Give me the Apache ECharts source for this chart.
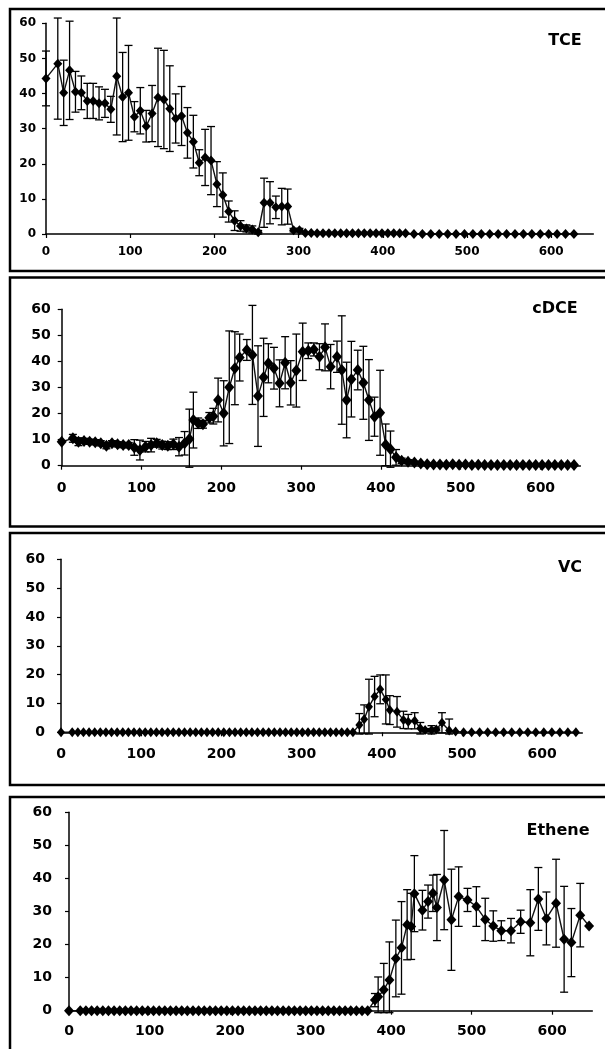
<!DOCTYPE html>
<html>
<head>
<meta charset="utf-8">
<script src="https://cdn.jsdelivr.net/npm/echarts@6/dist/echarts.min.js"></script>
<style>
html,body{margin:0;padding:0;background:#fff;}
#chart{width:605px;height:1049px;}
</style>
</head>
<body>
<div id="chart"></div>
<script>
// ---------- DATA ----------
const panelTitles = ['TCE', 'cDCE', 'VC', 'Ethene'];
const xTickLabels = [0, 100, 200, 300, 400, 500, 600];
const yTickLabels = [0, 10, 20, 30, 40, 50, 60];

// shared early sampling days (days 0 .. 364)
const earlyDays = [0,14,21,28,35,42,49,56,63,70,77,84,91,98,105,112,119,126,133,140,147,154,161,168,175,182,189,196,203,210,217,224,231,238,245,252,259,266,273,280,287,294,301,308,315,322,329,336,343,350,357,364];
const earlyZeros = [0,0,0,0,0,0,0,0,0,0,0,0,0,0,0,0,0,0,0,0,0,0,0,0,0,0,0,0,0,0,0,0,0,0,0,0,0,0,0,0,0,0,0,0,0,0,0,0,0,0,0,0];

// TCE
const tceX = [0,14,21,28,35,42,49,56,63,70,77,84,91,98,105,112,119,126,133,140,147,154,161,168,175,182,189,196,203,210,217,224,231,238,245,252,259,266,273,280,287,294,301,
  308,315,322,329,336,343,350,357,364,371,378,385,392,399,406,413,420,427,437,447,457,467,477,487,497,507,517,527,537,547,557,567,577,587,597,607,617,627];
const tceY = [44.3,48.5,40.2,46.6,40.5,40.2,37.9,37.9,37.2,37.2,35.5,44.9,39,40.2,33.4,35.1,30.7,34.3,38.9,38.3,35.7,32.9,33.6,28.8,26.3,20.3,21.8,20.9,14.2,11.1,6.4,3.8,2.3,1.6,1.3,0.5,8.9,8.9,7.6,7.8,7.8,1.1,1.1,
  0.3,0.3,0.2,0.2,0.2,0.2,0.2,0.2,0.2,0.2,0.2,0.2,0.2,0.2,0.2,0.2,0.2,0.2,0,0,0,0,0,0,0,0,0,0,0,0,0,0,0,0,0,0,0,0];
const tceErr = [7.8,15.8,9.3,14,5.8,4.8,5,5,4.7,4,3.7,16.7,12.7,13.5,4.3,6.6,4.5,8,14,14,12.2,7,8.4,7.2,7.5,3.7,8,9.7,6.4,6.3,3,2.8,1.5,1,1,0.5,7,6,3.2,5.2,5,0.5,0.5,
  0,0,0,0,0,0,0,0,0,0,0,0,0,0,0,0,0,0,0,0,0,0,0,0,0,0,0,0,0,0,0,0,0,0,0,0];

// cDCE
const cdceX = [0,14,21,28,35,42,49,56,63,70,77,84,91,98,105,112,119,126,133,140,147,154,160,165,171,177,185,190,196,203,
  210,217,223,232,239,246,253,259,266,273,280,287,294,302,309,316,323,330,337,345,351,357,363,371,378,385,392,399,406,412,
  419,426,434,442,450,458,466,474,482,490,498,506,514,522,530,538,546,554,562,570,578,586,594,602,610,618,626,634,642];
const cdceY = [9.2,10.5,9.2,9.5,9.2,9,8.6,7.7,8.6,8.2,7.9,7.9,7,6,7.3,7.9,8.6,7.9,7.7,8.2,7.3,8.6,10.2,17.5,16.3,15.9,18.4,19,25.2,20.1,
  30.1,37.4,41.5,44.4,42.5,26.7,33.9,39.3,37.4,31.6,39.5,31.8,36.5,43.7,44.1,44.6,41.8,45.4,38,41.8,36.7,25.2,33.2,36.7,31.8,25.2,18.8,20.3,8,6.3,
  3.2,1.9,1.5,1.2,0.8,0.6,0.5,0.5,0.4,0.6,0.4,0.5,0.3,0.4,0.3,0.3,0.3,0.3,0.3,0.3,0.3,0.3,0.3,0.3,0.3,0.3,0.3,0.3,0.3];
const cdceErr = [0,1.5,1.5,1,1,1,1,1.2,1,1,1,1,3,3.8,2,2.6,1.5,1.5,1.5,2,3.5,4.5,11.5,10.7,2,1.5,2,3,8.4,12.5,
  21.6,14,9,4,19,19.3,15,7.5,8,9,10,8.5,14,11,3,2.5,5,9,8.5,6,20.8,14.5,14.5,7.6,14,15.5,7.5,16.3,8,7,
  3,1,0.8,0.5,0,0,0,0,0,0,0,0,0,0,0,0,0,0,0,0,0,0,0,0,0,0,0,0,0];

// VC
const vcLateX = [372,378,384,391,398,405,410,419,427,433,441,448,454,462,468,475,484,492,502,512,522,532,542,552,562,572,582,592,602,612,622,632,642];
const vcLateY = [2.5,4.5,8.9,12.4,14.9,11.4,7.7,7.1,4.3,3.7,4.0,1.4,0.8,0.8,1.0,3.3,0.6,0.3,0,0,0,0,0,0,0,0,0,0,0,0,0,0,0];
const vcLateErr = [4,5,9.5,7,5,8.5,5,5.3,3,2.5,2.8,2,0.5,1.5,0.5,3.5,4,0,0,0,0,0,0,0,0,0,0,0,0,0,0,0,0];

// Ethene
const ethLateX = [371,380,384,391,398,406,413,420,425,429,439,446,452,457,466,475,484,495,506,517,527,537,549,561,573,583,593,605,615,624,635,646];
const ethLateY = [0,3.2,4.2,6.3,9.3,15.8,19,26,25.5,35.4,30.4,33,35.5,31.2,39.5,27.5,34.5,33.5,31.5,27.6,25.6,24.2,24.2,26.9,26.6,33.8,27.9,32.5,21.6,20.6,28.9,25.6];
const ethLateErr = [0,2,6,8,11.5,11.6,14,10.6,10,11.5,6,5,5.5,10,15,15.3,9,3.5,6,6.4,4.6,3,3.7,3.5,10,9.5,8,13.3,16,10.3,9.6,0];

const vcX = earlyDays.concat(vcLateX), vcY = earlyZeros.concat(vcLateY), vcErr = earlyZeros.concat(vcLateErr);
const ethX = earlyDays.concat(ethLateX), ethY = earlyZeros.concat(ethLateY), ethErr = earlyZeros.concat(ethLateErr);

// ---------- LAYOUT ----------
const FONT = 'DejaVu Sans';
const panels = [
  {x: tceX, y: tceY, e: tceErr, grid: {left: 46, top: 23.3, width: 547.3, height: 210.7}, fs: 12, xm: 12, ym: 10, sym: [9, 10], box: [10, 9, 600, 262], title: [565, 41]},
  {x: cdceX, y: cdceY, e: cdceErr, grid: {left: 61.7, top: 309.3, width: 518.7, height: 156.4}, fs: 14, xm: 16, ym: 11, sym: [10, 12], box: [10, 277.5, 600, 249], title: [555, 309]},
  {x: vcX, y: vcY, e: vcErr, grid: {left: 61, top: 559.3, width: 521.3, height: 173}, fs: 14, xm: 15, ym: 16, sym: [8, 10], box: [10, 533, 600, 252], title: [570, 568]},
  {x: ethX, y: ethY, e: ethErr, grid: {left: 69, top: 812.3, width: 523.3, height: 198.4}, fs: 14, xm: 14, ym: 17, sym: [10, 11], box: [10, 797, 600, 260], title: [558, 831]}
];

function errRender(params, api) {
  const x = api.value(0), y = api.value(1), e = api.value(2);
  if (!e) return null;
  const hi = Math.min(y + e, 61.5), lo = Math.max(y - e, -0.6);
  const p1 = api.coord([x, hi]), p0 = api.coord([x, lo]);
  const w = 4, st = {stroke: '#000', lineWidth: 1.3};
  return {type: 'group', children: [
    {type: 'line', shape: {x1: p1[0], y1: p1[1], x2: p0[0], y2: p0[1]}, style: st},
    {type: 'line', shape: {x1: p1[0] - w, y1: p1[1], x2: p1[0] + w, y2: p1[1]}, style: st},
    {type: 'line', shape: {x1: p0[0] - w, y1: p0[1], x2: p0[0] + w, y2: p0[1]}, style: st}
  ]};
}

const grids = [], xAxes = [], yAxes = [], series = [], graphics = [];
panels.forEach((p, i) => {
  grids.push(Object.assign({outerBoundsMode: 'none', containLabel: false}, p.grid));
  const lab = {color: '#000', fontFamily: FONT, fontWeight: 'bold', fontSize: p.fs};
  xAxes.push({
    type: 'value', gridIndex: i, min: 0, max: 650, interval: 100,
    axisLine: {show: true, onZero: false, lineStyle: {color: '#000', width: 1.5}},
    axisTick: {show: true, length: 4, customValues: xTickLabels, lineStyle: {color: '#000', width: 1.2}},
    axisLabel: Object.assign({margin: p.xm, customValues: xTickLabels}, lab),
    splitLine: {show: false}
  });
  yAxes.push({
    type: 'value', gridIndex: i, min: 0, max: 60, interval: 10,
    axisLine: {show: true, onZero: false, lineStyle: {color: '#000', width: 1.5}},
    axisTick: {show: true, length: 4, customValues: yTickLabels, lineStyle: {color: '#000', width: 1.2}},
    axisLabel: Object.assign({margin: p.ym, customValues: yTickLabels}, lab),
    splitLine: {show: false}
  });
  const errData = p.x.map((d, k) => [d, p.y[k], p.e[k]]);
  const ptData = p.x.map((d, k) => [d, p.y[k]]);
  series.push({
    type: 'custom', xAxisIndex: i, yAxisIndex: i, data: errData,
    encode: {x: 0, y: 1}, renderItem: errRender, clip: false, silent: true, z: 2
  });
  series.push({
    type: 'line', xAxisIndex: i, yAxisIndex: i, data: ptData,
    symbol: 'diamond', symbolSize: p.sym, showSymbol: true, showAllSymbol: true,
    itemStyle: {color: '#000'}, lineStyle: {color: '#111', width: 1.4},
    animation: false, z: 3, clip: false
  });
  graphics.push({
    type: 'rect', shape: {x: p.box[0], y: p.box[1], width: p.box[2], height: p.box[3]},
    style: {fill: 'none', stroke: '#000', lineWidth: 2.5}, z: 10
  });
  graphics.push({
    type: 'text', x: p.title[0], y: p.title[1],
    style: {text: panelTitles[i], fill: '#000', font: 'bold 16px "' + FONT + '"', align: 'center', verticalAlign: 'middle'}, z: 10
  });
});

const chart = echarts.init(document.getElementById('chart'), null, {renderer: 'canvas'});
chart.setOption({
  animation: false,
  backgroundColor: '#fff',
  grid: grids, xAxis: xAxes, yAxis: yAxes, series: series, graphic: graphics
});
</script>
</body>
</html>
